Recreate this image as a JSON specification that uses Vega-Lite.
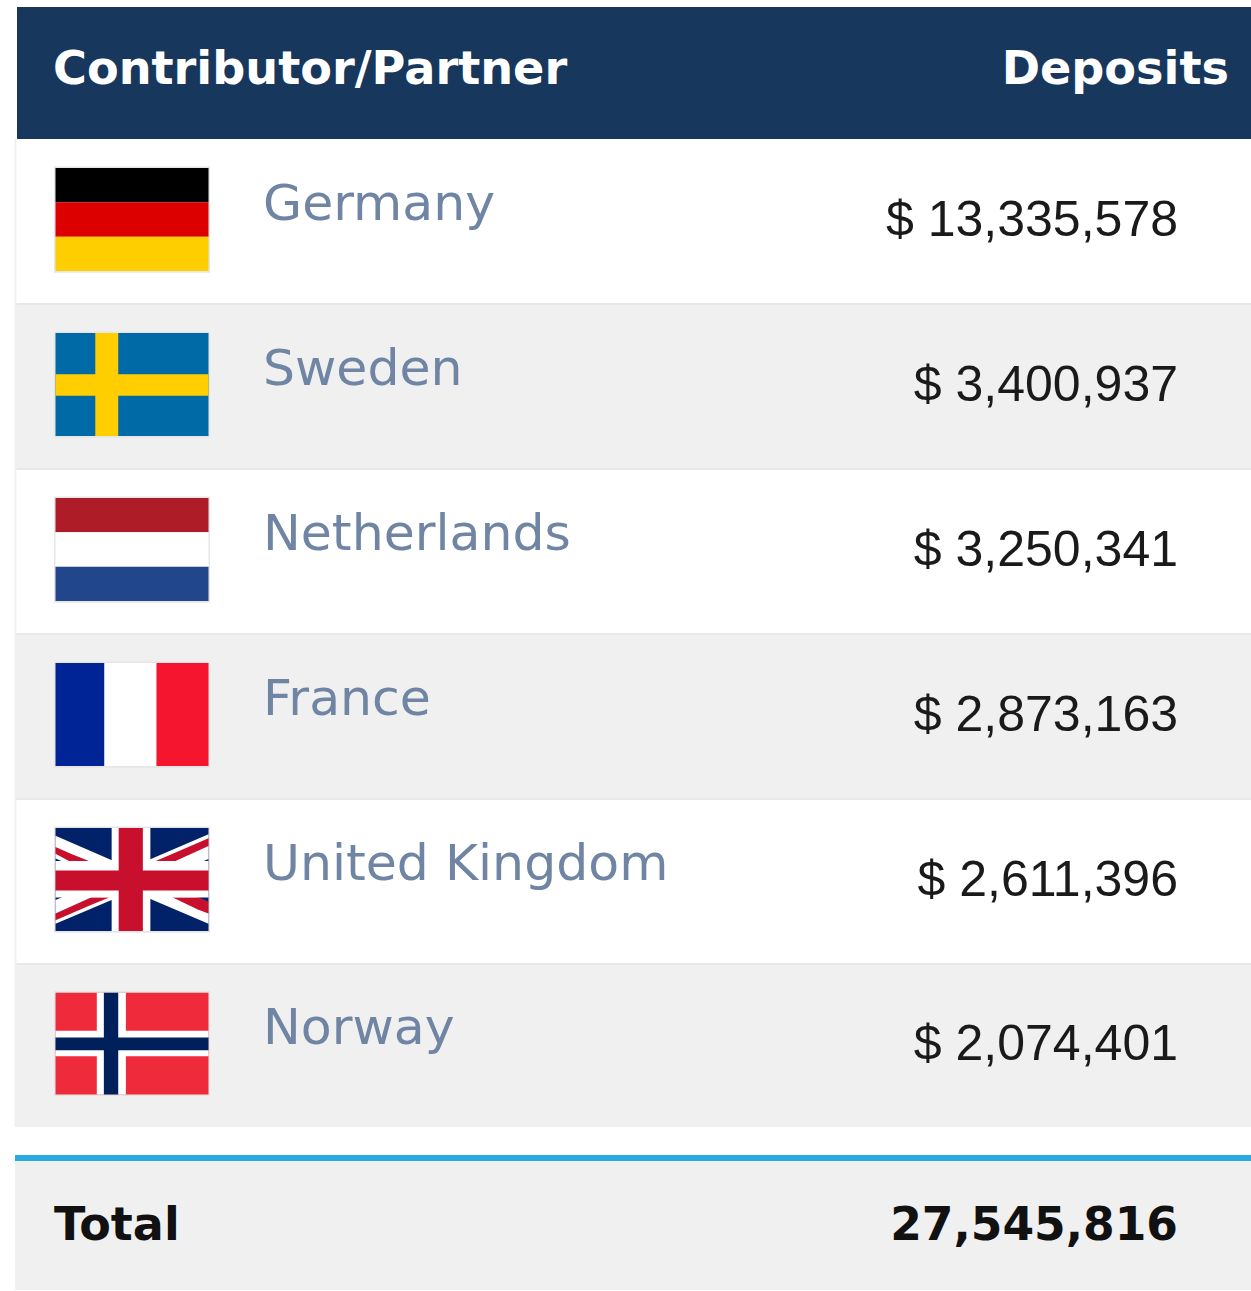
{
"$schema":"https://vega.github.io/schema/vega-lite/v6.json",
"width":1251,"height":1291,"padding":0,"autosize":{"type":"none"},"background":"#ffffff",
"config":{"view":{"stroke":null}},
"datasets":{
"bands":[
{"row":0,"fill":"header"},{"row":1,"fill":"rowWhite"},{"row":2,"fill":"rowGrey"},{"row":3,"fill":"rowWhite"},{"row":4,"fill":"rowGrey"},{"row":5,"fill":"rowWhite"},{"row":6,"fill":"rowGrey"},{"row":8,"fill":"rowGrey"}],
"contributors":[
{"row":1,"country":"Germany","deposits":13335578},
{"row":2,"country":"Sweden","deposits":3400937},
{"row":3,"country":"Netherlands","deposits":3250341},
{"row":4,"country":"France","deposits":2873163},
{"row":5,"country":"United Kingdom","deposits":2611396},
{"row":6,"country":"Norway","deposits":2074401}],
"totals":[{"row":8,"label":"Total","deposits":27545816}],
"headers":[{"row":0,"left":"Contributor/Partner","right":"Deposits"}],
"flagParts":[
{"row":1,"fill":"deBlack","fx0":0,"fx1":1,"fy0":0,"fy1":0.333,"stage":"base"},
{"row":1,"fill":"deRed","fx0":0,"fx1":1,"fy0":0.333,"fy1":0.667,"stage":"base"},
{"row":1,"fill":"deGold","fx0":0,"fx1":1,"fy0":0.667,"fy1":1,"stage":"base"},
{"row":2,"fill":"seBlue","fx0":0,"fx1":1,"fy0":0,"fy1":1,"stage":"base"},
{"row":2,"fill":"deGold","fx0":0,"fx1":1,"fy0":0.4,"fy1":0.61,"stage":"base"},
{"row":2,"fill":"deGold","fx0":0.26,"fx1":0.41,"fy0":0,"fy1":1,"stage":"base"},
{"row":3,"fill":"nlRed","fx0":0,"fx1":1,"fy0":0,"fy1":0.333,"stage":"base"},
{"row":3,"fill":"rowWhite","fx0":0,"fx1":1,"fy0":0.333,"fy1":0.667,"stage":"base"},
{"row":3,"fill":"nlBlue","fx0":0,"fx1":1,"fy0":0.667,"fy1":1,"stage":"base"},
{"row":4,"fill":"frBlue","fx0":0,"fx1":0.32,"fy0":0,"fy1":1,"stage":"base"},
{"row":4,"fill":"rowWhite","fx0":0.32,"fx1":0.66,"fy0":0,"fy1":1,"stage":"base"},
{"row":4,"fill":"frRed","fx0":0.66,"fx1":1,"fy0":0,"fy1":1,"stage":"base"},
{"row":5,"fill":"ukNavy","fx0":0,"fx1":1,"fy0":0,"fy1":1,"stage":"base"},
{"row":6,"fill":"noRed","fx0":0,"fx1":1,"fy0":0,"fy1":1,"stage":"base"},
{"row":6,"fill":"rowWhite","fx0":0.27,"fx1":0.46,"fy0":0,"fy1":1,"stage":"base"},
{"row":6,"fill":"rowWhite","fx0":0,"fx1":1,"fy0":0.375,"fy1":0.625,"stage":"base"},
{"row":6,"fill":"noNavy","fx0":0.316,"fx1":0.41,"fy0":0,"fy1":1,"stage":"base"},
{"row":6,"fill":"noNavy","fx0":0,"fx1":1,"fy0":0.44,"fy1":0.566,"stage":"base"},
{"row":5,"fill":"rowWhite","fx0":0.367,"fx1":0.62,"fy0":0,"fy1":1,"stage":"over"},
{"row":5,"fill":"rowWhite","fx0":0,"fx1":1,"fy0":0.32,"fy1":0.675,"stage":"over"},
{"row":5,"fill":"ukRed","fx0":0.413,"fx1":0.571,"fy0":0,"fy1":1,"stage":"over"},
{"row":5,"fill":"ukRed","fx0":0,"fx1":1,"fy0":0.413,"fy1":0.607,"stage":"over"}],
"ukDiagonals":[
{"row":5,"shape":"w1","fill":"rowWhite","fx":0,"top":0.075,"bottom":0.295},
{"row":5,"shape":"w1","fill":"rowWhite","fx":1,"top":0.72,"bottom":0.93},
{"row":5,"shape":"w2","fill":"rowWhite","fx":0,"top":0.7,"bottom":0.93},
{"row":5,"shape":"w2","fill":"rowWhite","fx":1,"top":0.06,"bottom":0.3},
{"row":5,"shape":"r1","fill":"ukRed","fx":0,"top":0.184,"bottom":0.25},
{"row":5,"shape":"r1","fill":"ukRed","fx":0.1,"top":0.25,"bottom":0.33},
{"row":5,"shape":"r1","fill":"ukRed","fx":0.235,"top":0.33,"bottom":0.33},
{"row":5,"shape":"r2","fill":"ukRed","fx":0.64,"top":0.33,"bottom":0.33},
{"row":5,"shape":"r2","fill":"ukRed","fx":0.77,"top":0.247,"bottom":0.33},
{"row":5,"shape":"r2","fill":"ukRed","fx":1,"top":0.1,"bottom":0.175},
{"row":5,"shape":"r3","fill":"ukRed","fx":0,"top":0.83,"bottom":0.895},
{"row":5,"shape":"r3","fill":"ukRed","fx":0.235,"top":0.672,"bottom":0.745},
{"row":5,"shape":"r3","fill":"ukRed","fx":0.355,"top":0.672,"bottom":0.672},
{"row":5,"shape":"r4","fill":"ukRed","fx":0.763,"top":0.672,"bottom":0.672},
{"row":5,"shape":"r4","fill":"ukRed","fx":0.93,"top":0.672,"bottom":0.79},
{"row":5,"shape":"r4","fill":"ukRed","fx":1,"top":0.715,"bottom":0.83}]
},
"encoding":{"color":{"field":"fill","type":"nominal","legend":null,"scale":{
"domain":["header","rowWhite","rowGrey","deBlack","deRed","deGold","seBlue","nlRed","nlBlue","frBlue","frRed","ukNavy","ukRed","noRed","noNavy"],
"range":["#18375d","#ffffff","#f0f0f0","#000000","#dd0000","#ffce00","#006aa7","#ae1c28","#21468b","#002395","#f5152f","#012169","#c8102e","#ef2b3b","#00205b"]}}},
"layer":[
{"data":{"name":"bands"},
 "transform":[{"calculate":"datum.row+1","as":"rowEnd"},{"calculate":"datum.row===0?17:15","as":"left"},{"calculate":"1251","as":"right"}],
 "mark":{"type":"rect"},
 "encoding":{
  "x":{"field":"left","type":"quantitative","axis":null,"scale":{"domain":[0,1251],"nice":false,"zero":false}},
  "x2":{"field":"right"},
  "y":{"field":"row","type":"quantitative","axis":null,"scale":{"domain":[0,1,2,3,4,5,6,7,8,9],"range":[7,139,304,469,634,799,964,1127,1161,1290],"nice":false,"zero":false}},
  "y2":{"field":"rowEnd"}}},
{"data":{"name":"contributors"},
 "transform":[{"filter":"datum.row>1"}],
 "mark":{"type":"rule","strokeWidth":2},
 "encoding":{"x":{"datum":16,"type":"quantitative","axis":null},"x2":{"datum":1251},"y":{"field":"row","type":"quantitative","axis":null},"color":{"value":"#e8e8e8"}}},
{"data":{"name":"contributors"},
 "transform":[{"calculate":"datum.row+1","as":"rowEnd"}],
 "mark":{"type":"rule","strokeWidth":2},
 "encoding":{"x":{"datum":15.5,"type":"quantitative","axis":null},"y":{"field":"row","type":"quantitative","axis":null},"y2":{"field":"rowEnd"},"color":{"value":"#f0f0f0"}}},
{"data":{"name":"totals"},
 "mark":{"type":"rect"},
 "encoding":{"x":{"datum":15,"type":"quantitative","axis":null},"x2":{"datum":1251},"y":{"datum":7.82,"type":"quantitative","axis":null},"y2":{"datum":8},"color":{"value":"#29abe2"}}},
{"data":{"name":"headers"},
 "transform":[{"calculate":"datum.row+0.5","as":"mid"}],
 "mark":{"type":"text","align":"left","baseline":"alphabetic","font":"DejaVu Sans","fontWeight":"bold","fontSize":46.2,"dy":11},
 "encoding":{"x":{"datum":53,"type":"quantitative","axis":null},"y":{"field":"mid","type":"quantitative","axis":null},"text":{"field":"left"},"color":{"value":"#ffffff"}}},
{"data":{"name":"headers"},
 "transform":[{"calculate":"datum.row+0.5","as":"mid"}],
 "mark":{"type":"text","align":"right","baseline":"alphabetic","font":"DejaVu Sans","fontWeight":"bold","fontSize":46.2,"dy":11},
 "encoding":{"x":{"datum":1229,"type":"quantitative","axis":null},"y":{"field":"mid","type":"quantitative","axis":null},"text":{"field":"right"},"color":{"value":"#ffffff"}}},
{"data":{"name":"contributors"},
 "transform":[{"calculate":"datum.row+0.176-0.01","as":"y0"},{"calculate":"datum.row+0.8+0.01","as":"y1"}],
 "mark":{"type":"rect"},
 "encoding":{"x":{"datum":54,"type":"quantitative","axis":null},"x2":{"datum":210},"y":{"field":"y0","type":"quantitative","axis":null},"y2":{"field":"y1"},"color":{"value":"#e6e6e6"}}},
{"data":{"name":"flagParts"},
 "transform":[{"filter":"datum.stage==='base'"},
  {"calculate":"55.5+153*datum.fx0","as":"x0"},{"calculate":"55.5+153*datum.fx1","as":"x1"},
  {"calculate":"datum.row+0.176+0.624*datum.fy0","as":"y0"},{"calculate":"datum.row+0.176+0.624*datum.fy1","as":"y1"}],
 "mark":{"type":"rect"},
 "encoding":{"x":{"field":"x0","type":"quantitative","axis":null},"x2":{"field":"x1"},"y":{"field":"y0","type":"quantitative","axis":null},"y2":{"field":"y1"}}},
{"data":{"name":"ukDiagonals"},
 "transform":[{"calculate":"55.5+153*datum.fx","as":"x0"},
  {"calculate":"datum.row+0.176+0.624*datum.top","as":"y0"},{"calculate":"datum.row+0.176+0.624*datum.bottom","as":"y1"}],
 "mark":{"type":"area","line":false},
 "encoding":{"x":{"field":"x0","type":"quantitative","axis":null},"y":{"field":"y0","type":"quantitative","axis":null,"stack":null},"y2":{"field":"y1"},"detail":{"field":"shape"}}},
{"data":{"name":"flagParts"},
 "transform":[{"filter":"datum.stage==='over'"},
  {"calculate":"55.5+153*datum.fx0","as":"x0"},{"calculate":"55.5+153*datum.fx1","as":"x1"},
  {"calculate":"datum.row+0.176+0.624*datum.fy0","as":"y0"},{"calculate":"datum.row+0.176+0.624*datum.fy1","as":"y1"}],
 "mark":{"type":"rect"},
 "encoding":{"x":{"field":"x0","type":"quantitative","axis":null},"x2":{"field":"x1"},"y":{"field":"y0","type":"quantitative","axis":null},"y2":{"field":"y1"}}},
{"data":{"name":"contributors"},
 "transform":[{"calculate":"datum.row+0.5","as":"mid"}],
 "mark":{"type":"text","align":"left","baseline":"alphabetic","font":"DejaVu Sans","fontSize":50.5,"dy":-2},
 "encoding":{"x":{"datum":263,"type":"quantitative","axis":null},"y":{"field":"mid","type":"quantitative","axis":null},"text":{"field":"country"},"color":{"value":"#6f85a3"}}},
{"data":{"name":"contributors"},
 "transform":[{"calculate":"datum.row+0.5","as":"mid"},{"calculate":"'$ '+format(datum.deposits,',')","as":"amount"}],
 "mark":{"type":"text","align":"right","baseline":"alphabetic","font":"Liberation Sans","fontSize":50,"dy":14},
 "encoding":{"x":{"datum":1178,"type":"quantitative","axis":null},"y":{"field":"mid","type":"quantitative","axis":null},"text":{"field":"amount"},"color":{"value":"#1a1a1a"}}},
{"data":{"name":"totals"},
 "transform":[{"calculate":"datum.row+0.5","as":"mid"}],
 "mark":{"type":"text","align":"left","baseline":"alphabetic","font":"DejaVu Sans","fontWeight":"bold","fontSize":46,"dy":14},
 "encoding":{"x":{"datum":54,"type":"quantitative","axis":null},"y":{"field":"mid","type":"quantitative","axis":null},"text":{"field":"label"},"color":{"value":"#111111"}}},
{"data":{"name":"totals"},
 "transform":[{"calculate":"datum.row+0.5","as":"mid"}],
 "mark":{"type":"text","align":"right","baseline":"alphabetic","font":"DejaVu Sans","fontWeight":"bold","fontSize":45.5,"dy":14},
 "encoding":{"x":{"datum":1178,"type":"quantitative","axis":null},"y":{"field":"mid","type":"quantitative","axis":null},"text":{"field":"deposits","format":","},"color":{"value":"#111111"}}}
]}
